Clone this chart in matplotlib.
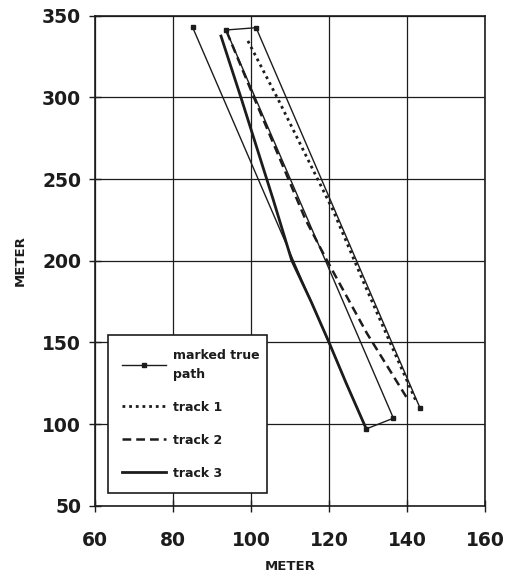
import matplotlib
matplotlib.use("Agg")
import matplotlib.pyplot as plt

# marked true path: walked down, across, up, across, down
true_x = [85.0, 129.5, 136.5, 93.6, 101.3, 143.3]
true_y = [343.0, 97.0, 103.6, 341.2, 342.6, 110.0]

track1_x = [99.2, 107.0, 121.0, 129.0, 136.0, 142.5]
track1_y = [334.5, 298.5, 231.0, 186.0, 148.0, 113.0]

track2_x = [93.8, 101.0, 114.0, 119.5, 129.7, 140.3]
track2_y = [340.0, 298.5, 225.0, 200.0, 155.6, 114.7]

track3_x = [92.3, 97.6, 105.7, 110.4, 115.4, 120.0, 124.4, 129.5]
track3_y = [337.5, 298.5, 237.3, 200.4, 175.0, 150.0, 125.0, 97.3]

ink = "#1c1c1c"
plt.rcParams["font.family"] = ["DejaVu Sans"]
plt.rcParams["font.weight"] = "bold"

fig = plt.figure(figsize=(5.09, 5.76), dpi=100)
ax = fig.add_axes([0.1866, 0.1219, 0.7664, 0.851])

ax.plot(true_x, true_y, color=ink, lw=1.0, marker="s", ms=3.5,
        label="marked true\npath")
ax.plot(track1_x, track1_y, color=ink, lw=2.0, dashes=(1.0, 1.4),
        label="track 1")
ax.plot(track2_x, track2_y, color=ink, lw=1.8, dashes=(3.5, 2.0),
        label="track 2")
ax.plot(track3_x, track3_y, color=ink, lw=2.0, label="track 3")

ax.set_xlim(60, 160)
ax.set_ylim(50, 350)
ax.set_xticks([60, 80, 100, 120, 140, 160])
ax.set_yticks([50, 100, 150, 200, 250, 300, 350])
ax.grid(True, color=ink, lw=0.9)
ax.set_axisbelow(True)
for s in ax.spines.values():
    s.set_color(ink)
    s.set_linewidth(1.2)
ax.tick_params(direction="inout", length=8, width=1.0, color=ink,
               labelsize=13.5, labelcolor=ink)
ax.tick_params(axis="x", pad=14)
ax.tick_params(axis="y", pad=6)
ax.set_xlabel("METER", fontsize=9.5, fontweight="bold", color=ink, labelpad=7)
ax.set_ylabel("METER", fontsize=9.5, fontweight="bold", color=ink, labelpad=11)

leg = ax.legend(loc="lower left", bbox_to_anchor=(0.034, 0.0255, 0.406, 0.325),
                mode="expand", borderaxespad=0, fontsize=9, handlelength=3.5,
                handletextpad=0.6, labelspacing=1.6, borderpad=1.1,
                fancybox=False, framealpha=1, edgecolor=ink)
leg.get_frame().set_linewidth(1.2)
leg.get_texts()[0].set_linespacing(1.6)
for t in leg.get_texts():
    t.set_color(ink)

fig.savefig("out.png", dpi=100)
